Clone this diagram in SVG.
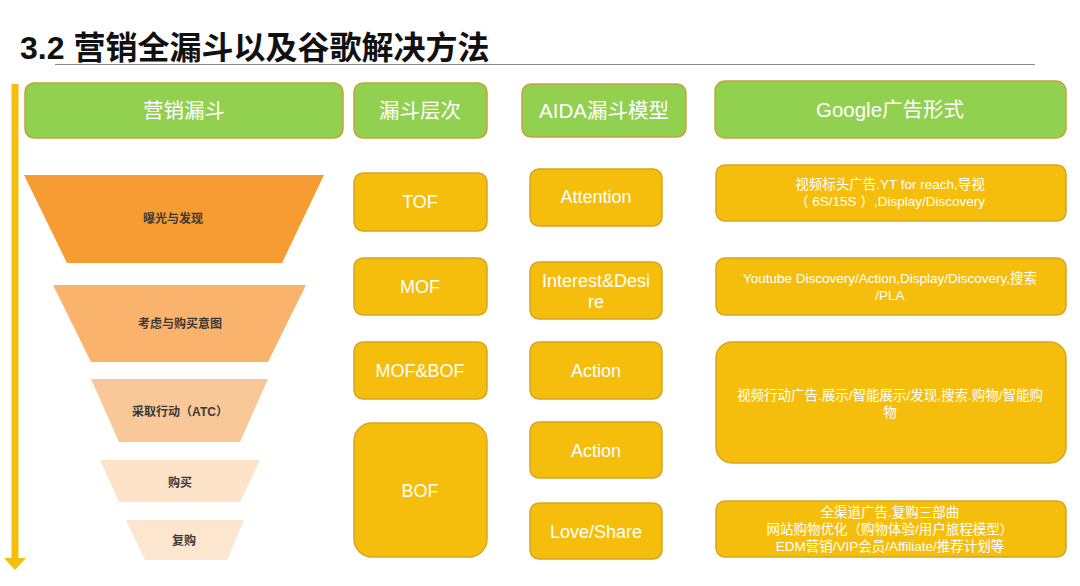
<svg xmlns="http://www.w3.org/2000/svg" width="1080" height="586" viewBox="0 0 1080 586">
<defs>
<style>
text{font-family:"Liberation Sans","Noto Sans CJK SC",sans-serif;text-anchor:middle}
.title{font-size:32px;font-weight:bold;fill:#111;text-anchor:start}
.g{fill:#92D050;stroke:#C9A23A;stroke-width:1.5}
.y{fill:#F6BE0C;stroke:#D9A520;stroke-width:1.5}
.hd{font-size:20.5px;fill:#fff}
.bt{font-size:18px;fill:#fff}
.st{font-size:13.5px;fill:#fff}
.ft{font-size:12px;font-weight:bold;fill:#3a3a3a}
</style>
</defs>
<rect width="1080" height="586" fill="#fff"/>
<text class="title" x="20" y="59">3.2 营销全漏斗以及谷歌解决方法</text>
<line x1="55" y1="64.5" x2="1035" y2="64.5" stroke="#888" stroke-width="1"/>

<g id="connectors">
<line x1="15" y1="84" x2="15" y2="560" stroke="#F6BE0C" stroke-width="7"/>
<polygon points="4,558 26,558 15,570" fill="#F6BE0C"/>
</g>

<g id="h-funnel"><rect class="g" x="25" y="83" width="318" height="55" rx="9"/><text class="hd" x="184" y="118">营销漏斗</text></g>
<g id="h-level"><rect class="g" x="354" y="83" width="133" height="55" rx="9"/><text class="hd" x="420" y="118">漏斗层次</text></g>
<g id="h-aida"><rect class="g" x="522" y="84" width="164" height="53" rx="9"/><text class="hd" x="604" y="118">AIDA漏斗模型</text></g>
<g id="h-google"><rect class="g" x="715" y="81" width="351" height="57" rx="10"/><text class="hd" x="890" y="117">Google广告形式</text></g>

<g id="f1"><polygon points="24,175 324,175 282,263 67,263" fill="#F79B33"/><text class="ft" x="173" y="223">曝光与发现</text></g>
<g id="f2"><polygon points="53,285 306,285 268,362 91,362" fill="#FAB36C"/><text class="ft" x="180" y="328">考虑与购买意图</text></g>
<g id="f3"><polygon points="91,379 268,379 240,442 119,442" fill="#F9C899"/><text class="ft" x="180" y="416">采取行动（ATC）</text></g>
<g id="f4"><polygon points="100,460 260,460 240,502 119,502" fill="#FDE3C8"/><text class="ft" x="180" y="487">购买</text></g>
<g id="f5"><polygon points="126,520 244,520 227,560 145,560" fill="#FDE6CF"/><text class="ft" x="184" y="545">复购</text></g>

<g id="tof"><rect class="y" x="354" y="173" width="133" height="58" rx="9"/><text class="bt" x="420" y="208">TOF</text></g>
<g id="mof"><rect class="y" x="354" y="258" width="133" height="57" rx="9"/><text class="bt" x="420" y="293">MOF</text></g>
<g id="mofbof"><rect class="y" x="354" y="342" width="133" height="57" rx="9"/><text class="bt" x="420" y="377">MOF&amp;BOF</text></g>
<g id="bof"><rect class="y" x="354" y="423" width="133" height="134" rx="18"/><text class="bt" x="420" y="497">BOF</text></g>

<g id="attention"><rect class="y" x="530" y="169" width="132" height="57" rx="9"/><text class="bt" x="596" y="203">Attention</text></g>
<g id="interest"><rect class="y" x="530" y="262" width="132" height="57" rx="9"/><text class="bt" x="596" y="287">Interest&amp;Desi</text><text class="bt" x="596" y="308">re</text></g>
<g id="action1"><rect class="y" x="530" y="342" width="132" height="57" rx="9"/><text class="bt" x="596" y="377">Action</text></g>
<g id="action2"><rect class="y" x="530" y="422" width="132" height="56" rx="9"/><text class="bt" x="596" y="457">Action</text></g>
<g id="love"><rect class="y" x="530" y="503" width="132" height="56" rx="9"/><text class="bt" x="596" y="538">Love/Share</text></g>

<g id="g1"><rect class="y" x="716" y="165" width="350" height="56" rx="9"/><text class="st" x="890" y="189">视频标头广告.YT for reach,导视</text><text class="st" x="890" y="206">（ 6S/15S ）,Display/Discovery</text></g>
<g id="g2"><rect class="y" x="716" y="258" width="350" height="57" rx="9"/><text class="st" x="890" y="283">Youtube Discovery/Action,Display/Discovery,搜索</text><text class="st" x="890" y="300">/PLA</text></g>
<g id="g3"><rect class="y" x="716" y="342" width="350" height="121" rx="16"/><text class="st" x="890" y="400">视频行动广告.展示/智能展示/发现,搜索.购物/智能购</text><text class="st" x="890" y="417">物</text></g>
<g id="g4"><rect class="y" x="716" y="501" width="350" height="56" rx="9"/><text class="st" x="890" y="517">全渠道广告.复购三部曲</text><text class="st" x="890" y="534">网站购物优化（购物体验/用户旅程模型）</text><text class="st" x="890" y="551">EDM营销/VIP会员/Affiliate/推荐计划等</text></g>
</svg>
